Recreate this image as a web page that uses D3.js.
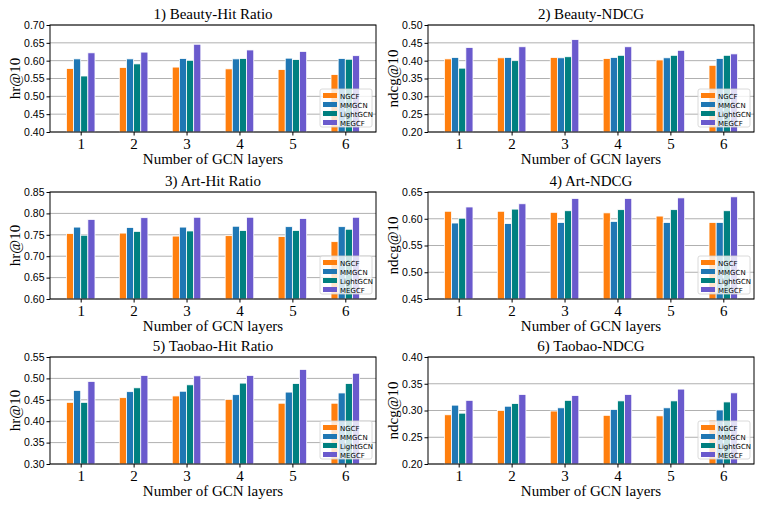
<!DOCTYPE html>
<html>
<head>
<meta charset="utf-8">
<script src="https://cdn.jsdelivr.net/npm/d3@7"></script>
<style>
  body { margin: 0; background: #fff; }
  .tick text { font-family: "Liberation Sans", Arial, sans-serif; }
</style>
</head>
<body>
<div id="chart"></div>
<script>
// Data
var layers = [1, 2, 3, 4, 5, 6]
var models = ['NGCF', 'MMGCN', 'LightGCN', 'MEGCF']
var colors = ['#ff7f0e', '#1f77b4', '#008080', '#6a5acd']

var titles = ['1) Beauty-Hit Ratio', '2) Beauty-NDCG', '3) Art-Hit Ratio',
  '4) Art-NDCG', '5) Taobao-Hit Ratio', '6) Taobao-NDCG']
var yLabels = ['hr@10', 'ndcg@10', 'hr@10', 'ndcg@10', 'hr@10', 'ndcg@10']
var yDomains = [[0.40, 0.70], [0.20, 0.50], [0.60, 0.85], [0.45, 0.65], [0.30, 0.55], [0.20, 0.40]]

// values per panel: [NGCF, MMGCN, LightGCN, MEGCF]
var beautyHr = [
  [0.578, 0.581, 0.582, 0.577, 0.575, 0.561],
  [0.605, 0.605, 0.606, 0.605, 0.607, 0.606],
  [0.557, 0.591, 0.601, 0.606, 0.603, 0.604],
  [0.622, 0.624, 0.646, 0.630, 0.626, 0.614]
]
var beautyNdcg = [
  [0.405, 0.408, 0.409, 0.406, 0.402, 0.387],
  [0.409, 0.409, 0.408, 0.409, 0.408, 0.406],
  [0.379, 0.400, 0.411, 0.415, 0.415, 0.415],
  [0.437, 0.439, 0.459, 0.439, 0.429, 0.419]
]
var artHr = [
  [0.753, 0.754, 0.747, 0.748, 0.746, 0.734],
  [0.768, 0.767, 0.768, 0.770, 0.769, 0.769],
  [0.749, 0.758, 0.759, 0.760, 0.760, 0.763],
  [0.786, 0.790, 0.791, 0.791, 0.788, 0.791]
]
var artNdcg = [
  [0.614, 0.614, 0.612, 0.611, 0.605, 0.593],
  [0.592, 0.591, 0.593, 0.595, 0.593, 0.593],
  [0.601, 0.618, 0.615, 0.617, 0.617, 0.615],
  [0.622, 0.628, 0.638, 0.638, 0.639, 0.641]
]
var taobaoHr = [
  [0.444, 0.455, 0.459, 0.451, 0.442, 0.442],
  [0.472, 0.469, 0.470, 0.462, 0.468, 0.466],
  [0.444, 0.478, 0.485, 0.489, 0.488, 0.488],
  [0.493, 0.507, 0.506, 0.507, 0.521, 0.512]
]
var taobaoNdcg = [
  [0.292, 0.300, 0.299, 0.291, 0.290, 0.282],
  [0.310, 0.308, 0.305, 0.302, 0.305, 0.301],
  [0.295, 0.313, 0.319, 0.318, 0.318, 0.316],
  [0.319, 0.330, 0.328, 0.330, 0.340, 0.333]
]
var panelData = [beautyHr, beautyNdcg, artHr, artNdcg, taobaoHr, taobaoNdcg]

var width = 763
var height = 509
var colLeft = [50, 428]
var rowTop = [25, 192, 357]
var plotW = 326
var plotH = 107
var barW = 0.135

var svg = d3.select("#chart")
  .append("svg")
  .attr("width", width)
  .attr("height", height)

panelData.forEach(function(series, p) {
  var left = colLeft[p % 2]
  var top = rowTop[Math.floor(p / 2)]

  var g = svg.append("g")
    .attr("transform", `translate(${left},${top})`)

  var xScale = d3.scaleLinear()
    .domain([-0.58, 5.58])
    .range([0, plotW])

  var yScale = d3.scaleLinear()
    .domain(yDomains[p])
    .range([plotH, 0])

  var yTicks = d3.range(yDomains[p][0], yDomains[p][1] + 0.001, 0.05)

  // grid
  g.append("g")
    .selectAll("line")
    .data(yTicks)
    .enter()
    .append("line")
    .attr("x1", 0)
    .attr("x2", plotW)
    .attr("y1", d => yScale(d))
    .attr("y2", d => yScale(d))
    .style("stroke", "#b0b0b0")
    .style("stroke-width", 1)

  // bars
  series.forEach(function(vals, m) {
    g.append("g")
      .selectAll("rect")
      .data(vals)
      .enter()
      .append("rect")
      .attr("x", (d, i) => xScale(i + (m - 2) * barW))
      .attr("width", xScale(barW) - xScale(0))
      .attr("y", d => yScale(d))
      .attr("height", d => plotH - yScale(d))
      .style("fill", colors[m])
      .style("stroke", "#ffffff")
      .style("stroke-width", 0.8)
  })

  // frame
  g.append("rect")
    .attr("width", plotW)
    .attr("height", plotH)
    .style("fill", "none")
    .style("stroke", "#000")
    .style("stroke-width", 1)

  // Y axis
  g.append("g")
    .call(d3.axisLeft(yScale).tickValues(yTicks).tickFormat(d3.format(".2f")).tickSize(3.5).tickPadding(2))
    .call(s => s.select(".domain").remove())
    .selectAll("text")
    .style("font-size", "10.5px")
    .style("fill", "#000")

  // X axis
  g.append("g")
    .attr("transform", `translate(0,${plotH})`)
    .call(d3.axisBottom(xScale).tickValues([0, 1, 2, 3, 4, 5]).tickFormat(d => layers[d]).tickSize(3.5).tickPadding(3))
    .call(s => s.select(".domain").remove())
    .selectAll("text")
    .style("font-family", "'Liberation Serif', 'Times New Roman', serif")
    .style("font-size", "15px")
    .style("fill", "#000")

  // title
  g.append("text")
    .attr("x", plotW / 2)
    .attr("y", -6)
    .attr("text-anchor", "middle")
    .style("font-family", "'Liberation Serif', 'Times New Roman', serif")
    .style("font-size", "15px")
    .text(titles[p])

  // x label
  g.append("text")
    .attr("x", plotW / 2)
    .attr("y", plotH + 32)
    .attr("text-anchor", "middle")
    .style("font-family", "'Liberation Serif', 'Times New Roman', serif")
    .style("font-size", "15px")
    .text("Number of GCN layers")

  // y label
  g.append("text")
    .attr("transform", `translate(${-30},${plotH / 2}) rotate(-90)`)
    .attr("text-anchor", "middle")
    .style("font-family", "'Liberation Serif', 'Times New Roman', serif")
    .style("font-size", "15px")
    .text(yLabels[p])

  // legend
  var lg = g.append("g")
    .attr("transform", `translate(${plotW - 56},${plotH - 43})`)

  lg.append("rect")
    .attr("width", 52)
    .attr("height", 38)
    .attr("rx", 2)
    .style("fill", "#ffffff")
    .style("fill-opacity", 0.8)
    .style("stroke", "#d0d0d0")
    .style("stroke-width", 0.8)

  models.forEach(function(name, m) {
    lg.append("rect")
      .attr("x", 3)
      .attr("y", 4 + m * 9)
      .attr("width", 14)
      .attr("height", 5)
      .style("fill", colors[m])
    lg.append("text")
      .attr("x", 20)
      .attr("y", 9.5 + m * 9)
      .style("font-family", "'DejaVu Sans', sans-serif")
      .style("font-size", "7px")
      .text(name)
  })
})
</script>
</body>
</html>
